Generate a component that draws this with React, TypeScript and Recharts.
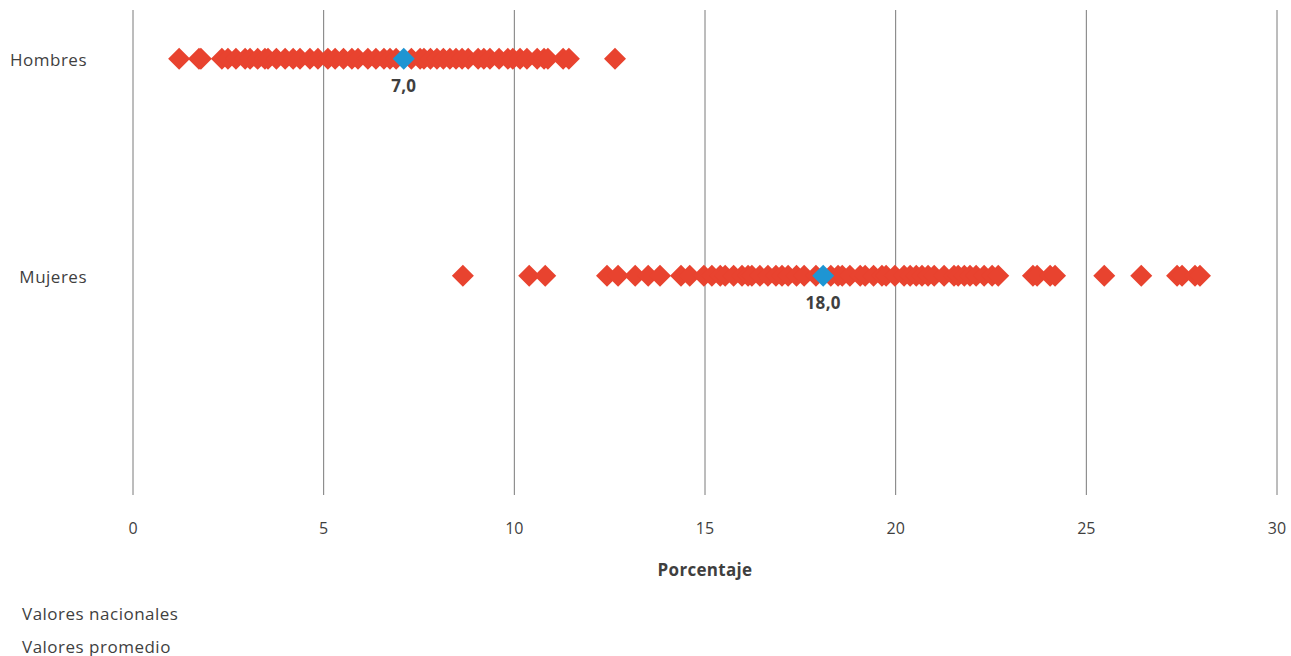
import { ScatterChart, Scatter, XAxis, YAxis, CartesianGrid } from "recharts"

const groups = ["Hombres", "Mujeres"]

// valores nacionales (porcentaje)
const hombresValues = [
  1.21, 1.73, 1.78, 2.33, 2.49, 2.7, 2.94, 3.07, 3.27, 3.46, 3.54, 3.76, 3.99, 4.2,
  4.38, 4.64, 4.85, 5.11, 5.3, 5.52, 5.74, 5.9, 6.16, 6.37, 6.58, 6.74, 6.9, 7.3,
  7.53, 7.63, 7.8, 7.97, 8.14, 8.31, 8.47, 8.63, 8.79, 9.05, 9.2, 9.36, 9.6, 9.83,
  9.96, 10.15, 10.33, 10.6, 10.78, 10.88, 11.28, 11.43, 12.64,
]
const mujeresValues = [
  8.65, 10.39, 10.81, 12.43, 12.72, 13.17, 13.51, 13.82, 14.37, 14.6, 14.97, 15.18,
  15.4, 15.53, 15.75, 15.97, 16.13, 16.23, 16.44, 16.65, 16.86, 17.02, 17.18, 17.4,
  17.6, 17.91, 18.3, 18.49, 18.6, 18.8, 19.07, 19.2, 19.42, 19.64, 19.75, 19.98,
  20.22, 20.38, 20.54, 20.69, 20.85, 21.01, 21.27, 21.53, 21.64, 21.8, 21.95, 22.11,
  22.32, 22.53, 22.69, 23.6, 23.71, 24.05, 24.18, 25.47, 26.44, 27.38, 27.51, 27.85,
  27.98,
]
// valores promedio
const avgValues = [7.1, 18.1]
const avgLabels = ["7,0", "18,0"]

const xTicks = [0, 5, 10, 15, 20, 25, 30]

const RED = "#e8432f"
const BLUE = "#1e95d3"
const TEXT = "#3f3f3f"
const FONT = "'Open Sans', sans-serif"

const nacionales = [
  ...hombresValues.map((v) => ({ x: v, y: 1 })),
  ...mujeresValues.map((v) => ({ x: v, y: 2 })),
]
const promedio = avgValues.map((v, i) => ({ x: v, y: i + 1, label: avgLabels[i] }))

function Diamond(props: any) {
  const { cx, cy, fill } = props
  const r = 11
  return <polygon points={`${cx},${cy - r} ${cx + r},${cy} ${cx},${cy + r} ${cx - r},${cy}`} fill={fill} />
}

function AvgDiamond(props: any) {
  const { cx, cy, payload } = props
  return (
    <g>
      <Diamond cx={cx} cy={cy} fill={BLUE} />
      <text x={cx} y={cy + 33} textAnchor="middle" fontSize={17} fontWeight={700} fill={TEXT} fontFamily={FONT} letterSpacing={0.3}>
        {payload.label}
      </text>
    </g>
  )
}

function GroupTick(props: any) {
  const { y, payload } = props
  return (
    <text x={87} y={y} dy={7} textAnchor="end" fontSize={17} fill={TEXT} fontFamily={FONT} letterSpacing={0.5}>
      {groups[payload.value - 1]}
    </text>
  )
}

export default function App() {
  return (
    <div style={{ position: "absolute", left: 0, top: 0, width: 1291, height: 656, fontFamily: FONT, background: "#fff" }}>
      <ScatterChart width={1291} height={600} margin={{ top: 10, right: 14, left: 0, bottom: 0 }}>
        <CartesianGrid horizontal={false} stroke="#7a7a7a" />
        <XAxis
          type="number"
          dataKey="x"
          domain={[0, 30]}
          ticks={xTicks}
          axisLine={false}
          tickLine={false}
          tickMargin={22}
          height={105}
          tick={{ fill: TEXT, fontSize: 16, fontFamily: FONT }}
          label={{ value: "Porcentaje", position: "insideBottom", offset: 24, fill: TEXT, fontSize: 17, fontWeight: 700, fontFamily: FONT, letterSpacing: 0.3 }}
        />
        <YAxis
          type="number"
          dataKey="y"
          domain={[0.775, 3.01]}
          reversed
          ticks={[1, 2]}
          width={133}
          axisLine={false}
          tickLine={false}
          tick={<GroupTick />}
        />
        <Scatter data={nacionales} fill={RED} shape={<Diamond />} isAnimationActive={false} />
        <Scatter data={promedio} fill={BLUE} shape={<AvgDiamond />} isAnimationActive={false} />
      </ScatterChart>
      <div style={{ position: "absolute", left: 22, top: 602, fontSize: 17, letterSpacing: 0.5, color: TEXT }}>Valores nacionales</div>
      <div style={{ position: "absolute", left: 22, top: 635, fontSize: 17, letterSpacing: 0.5, color: TEXT }}>Valores promedio</div>
    </div>
  )
}
